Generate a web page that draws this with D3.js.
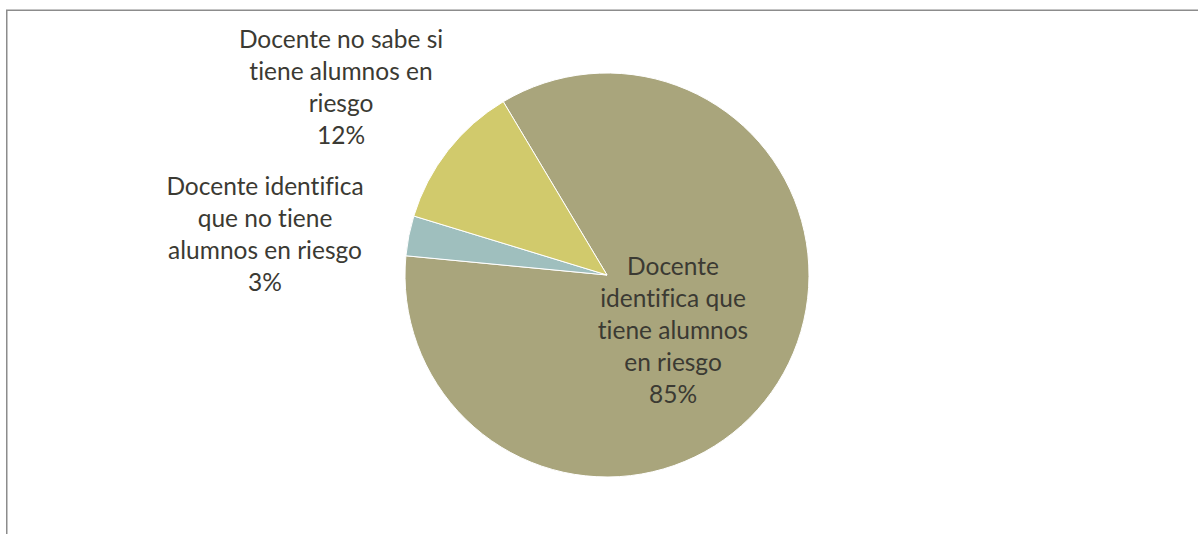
<!DOCTYPE html>
<html>
<head>
<meta charset="utf-8">
<script src="https://cdn.jsdelivr.net/npm/d3@7"></script>
<style>
  html, body { margin: 0; padding: 0; background: #fff; }
  svg { display: block; }
  .lbl { font-variant-ligatures: none; }
</style>
</head>
<body>
<div id="chart"></div>
<script>
// data
const categories = [
  ["Docente", "identifica que", "tiene alumnos", "en riesgo"],
  ["Docente identifica", "que no tiene", "alumnos en riesgo"],
  ["Docente no sabe si", "tiene alumnos en", "riesgo"]
];
const values = [85.1, 3.2, 11.7];
const percentLabels = ["85%", "3%", "12%"];
const colors = ["#A9A57C", "#9FBFBE", "#D1CA6C"];

// layout
const W = 1198, H = 534;
const cx = 607, cy = 275, radius = 202;
const firstSliceAngle = -30.9; // degrees, clockwise from 12 o'clock
// label centres (first baseline) relative to pie centre
const labelOffsets = [
  { dx: 66, dy: 0 },
  { dx: -342, dy: -80 },
  { dx: -266, dy: -227 }
];
const lineH = 32;

const svg = d3.select("#chart").append("svg")
  .attr("width", W).attr("height", H);

// chart frame (runs off right and bottom edges)
svg.append("rect")
  .attr("x", 6.75).attr("y", 10.25)
  .attr("width", 1300).attr("height", 700)
  .attr("fill", "none")
  .attr("stroke", "#8c8c8c")
  .attr("stroke-width", 1.5);

const start = firstSliceAngle * Math.PI / 180;
const pie = d3.pie().sort(null).value(d => d)
  .startAngle(start).endAngle(start + 2 * Math.PI);
const arc = d3.arc().innerRadius(0).outerRadius(radius);

const g = svg.append("g").attr("transform", `translate(${cx},${cy})`);

g.selectAll("path").data(pie(values)).enter().append("path")
  .attr("d", arc)
  .attr("fill", (d, i) => colors[i])
  .attr("stroke", "#fff")
  .attr("stroke-width", 1);

const labels = g.selectAll("text.lbl").data(categories).enter().append("text")
  .attr("class", "lbl")
  .attr("text-anchor", "middle")
  .attr("font-family", "Lato, 'Open Sans', sans-serif")
  .attr("font-size", 24.5)
  .attr("fill", "#3b3a33")
  .attr("transform", (d, i) => `translate(${labelOffsets[i].dx},${labelOffsets[i].dy})`);

labels.each(function (lines, i) {
  const t = d3.select(this);
  lines.concat([percentLabels[i]]).forEach((ln, k) => {
    t.append("tspan").attr("x", 0).attr("y", k * lineH).text(ln);
  });
});
</script>
</body>
</html>
